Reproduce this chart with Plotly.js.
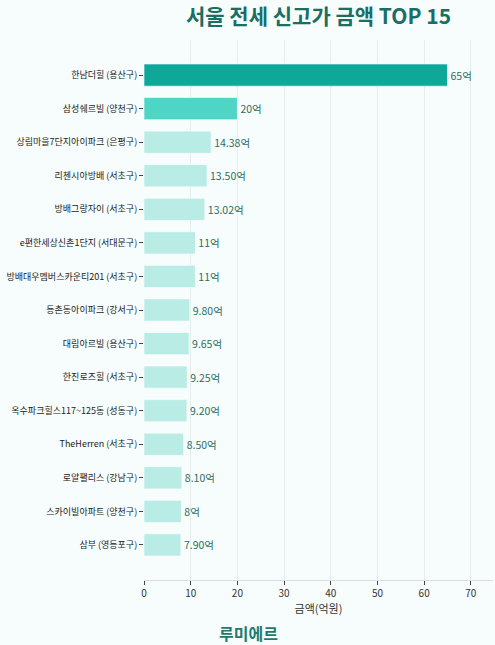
<!DOCTYPE html>
<html>
<head>
<meta charset="utf-8">
<script src="https://cdn.plot.ly/plotly-3.0.1.min.js"></script>
<style>
html,body{margin:0;padding:0;background:#f7fdfc;}
#chart{width:495px;height:645px;}
</style>
</head>
<body>
<div id="chart"></div>
<script>
const names = [
  "한남더힐 (용산구)",
  "삼성쉐르빌 (양천구)",
  "상림마을7단지아이파크 (은평구)",
  "리첸시아방배 (서초구)",
  "방배그랑자이 (서초구)",
  "e편한세상신촌1단지 (서대문구)",
  "방배대우멤버스카운티201 (서초구)",
  "등촌동아이파크 (강서구)",
  "대림아르빌 (용산구)",
  "한진로즈힐 (서초구)",
  "옥수파크힐스117~125동 (성동구)",
  "TheHerren (서초구)",
  "로얄팰리스 (강남구)",
  "스카이빌아파트 (양천구)",
  "삼부 (영등포구)"
];
const amounts = [65, 20, 14.38, 13.5, 13.02, 11, 11, 9.8, 9.65, 9.25, 9.2, 8.5, 8.1, 8, 7.9];
const labels = ["65억","20억","14.38억","13.50억","13.02억","11억","11억","9.80억","9.65억","9.25억","9.20억","8.50억","8.10억","8억","7.90억"];
const barColors = ["#0fa898","#4fd5c5","#b8ece5","#b8ece5","#b8ece5","#b8ece5","#b8ece5","#b8ece5","#b8ece5","#b8ece5","#b8ece5","#b8ece5","#b8ece5","#b8ece5","#b8ece5"];

const font = "Noto Sans CJK KR, Noto Sans, sans-serif";

const trace = {
  type: "bar",
  orientation: "h",
  y: names,
  x: amounts,
  text: labels,
  textposition: "outside",
  cliponaxis: false,
  textfont: {family: font, size: 10.5, color: "#2d6e65"},
  marker: {color: barColors, line: {color: "rgba(255,255,255,0.6)", width: 1}},
  width: 0.66,
  hoverinfo: "none"
};

const layout = {
  width: 495,
  height: 645,
  margin: {l: 144, r: 2, t: 40, b: 65},
  paper_bgcolor: "#f7fdfc",
  plot_bgcolor: "#f7fdfc",
  font: {family: font, color: "#333333"},
  showlegend: false,
  title: {
    text: "<b>서울 전세 신고가 금액 TOP 15</b>",
    font: {family: font, size: 21, color: "#1b6e63"},
    xref: "paper", x: 0.5, xanchor: "center",
    yref: "container", y: 1 - 17/645, yanchor: "middle"
  },
  xaxis: {
    range: [0, 74.75],
    dtick: 10,
    showgrid: true,
    gridcolor: "#e6eeed",
    gridwidth: 1,
    zeroline: false,
    showline: true,
    linecolor: "#dddddd",
    linewidth: 1,
    ticks: "outside",
    ticklen: 4,
    tickcolor: "#444444",
    tickfont: {family: font, size: 10, color: "#333333"},
    title: {text: "금액(억원)", font: {family: font, size: 11, color: "#333333"}, standoff: 6},
    fixedrange: true
  },
  yaxis: {
    type: "category",
    categoryorder: "array",
    categoryarray: names,
    range: [15.045, -1.045],
    showgrid: false,
    zeroline: false,
    showline: false,
    ticks: "outside",
    ticklen: 4,
    tickcolor: "#444444",
    tickfont: {family: font, size: 9, color: "#222222"},
    fixedrange: true
  },
  annotations: [{
    text: "<b>루미에르</b>",
    xref: "paper", yref: "paper",
    x: (248 - 144) / 349, y: -(633 - 580) / 540,
    xanchor: "center", yanchor: "middle",
    showarrow: false,
    font: {family: font, size: 16, color: "#1f7a6d"}
  }]
};

Plotly.newPlot("chart", [trace], layout, {displayModeBar: false, staticPlot: true});
</script>
</body>
</html>
